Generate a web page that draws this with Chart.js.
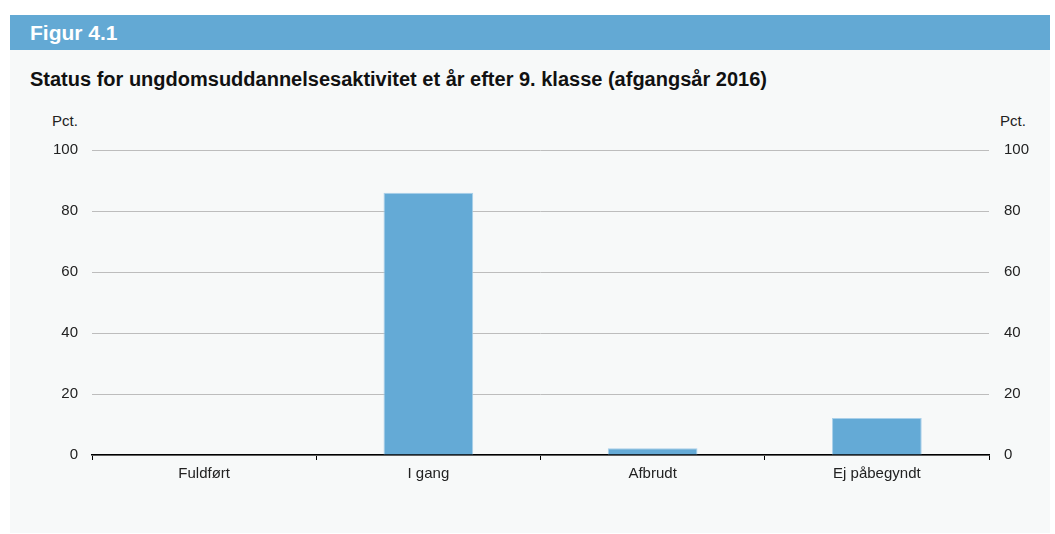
<!DOCTYPE html>
<html>
<head>
<meta charset="utf-8">
<script src="https://cdn.jsdelivr.net/npm/chart.js@4/dist/chart.umd.min.js"></script>
<style>
  html,body{margin:0;padding:0;background:#fff;}
  body{width:1055px;height:534px;position:relative;overflow:hidden;font-family:"Liberation Sans",Arial,Helvetica,sans-serif;}
  #hdr{position:absolute;left:10px;top:15px;width:1040px;height:35px;background:#63a9d4;color:#fff;font-weight:bold;font-size:21px;line-height:35px;}
  #hdr span{position:absolute;left:20px;top:0px;}
  #panel{position:absolute;left:10px;top:50px;width:1040px;height:483px;background:#f7f9f9;}
  #title{position:absolute;left:20px;top:18px;font-weight:bold;font-size:20px;color:#111;}
  .pct{position:absolute;top:62px;font-size:15px;color:#222;}
  #wrap{position:absolute;left:0;top:0;width:1040px;height:483px;}
</style>
</head>
<body>
<div id="hdr"><span>Figur 4.1</span></div>
<div id="panel">
  <div id="title">Status for ungdomsuddannelsesaktivitet et år efter 9. klasse (afgangsår 2016)</div>
  <div class="pct" style="left:42px;">Pct.</div>
  <div class="pct" style="left:990px;">Pct.</div>
  <div id="wrap"><canvas id="c" width="1040" height="483"></canvas></div>
</div>
<script>
const categories = ["Fuldført", "I gang", "Afbrudt", "Ej påbegyndt"];
const values = [0, 86, 2.2, 12.1];
const yTicks = [0, 20, 40, 60, 80, 100];

const font = {family: '"Liberation Sans", Arial, Helvetica, sans-serif', size: 15};
new Chart(document.getElementById('c'), {
  type: 'bar',
  data: {
    labels: categories,
    datasets: [{
      data: values,
      backgroundColor: '#64aad6',
      borderColor: '#a9d0ea',
      borderWidth: 1,
      barPercentage: 0.4,
      categoryPercentage: 1.0
    }]
  },
  options: {
    responsive: false,
    animation: false,
    devicePixelRatio: 1,
    layout: {padding: {top: 100, left: 0, right: 0, bottom: 0}},
    plugins: {legend: {display: false}, tooltip: {enabled: false}},
    scales: {
      x: {
        grid: {display: true, drawOnChartArea: false, drawTicks: true, tickLength: 5, color: '#000', offset: true},
        border: {display: true, color: '#000', width: 1.5},
        ticks: {color: '#222', font: font, padding: 5, maxRotation: 0},
        afterFit: a => { a.height = 78; }
      },
      y: {
        position: 'left',
        min: 0, max: 100,
        afterBuildTicks: a => { a.ticks = yTicks.map(v => ({value: v})); },
        grid: {color: '#bdbdbd', drawTicks: false, lineWidth: 1},
        border: {display: false},
        ticks: {color: '#222', font: font, padding: 14},
        afterFit: a => { a.width = 82; }
      },
      y2: {
        position: 'right',
        min: 0, max: 100,
        afterBuildTicks: a => { a.ticks = yTicks.map(v => ({value: v})); },
        grid: {display: false, drawTicks: false},
        border: {display: false},
        ticks: {color: '#222', font: font, padding: 15},
        afterFit: a => { a.width = 61; }
      }
    }
  }
});
</script>
</body>
</html>
